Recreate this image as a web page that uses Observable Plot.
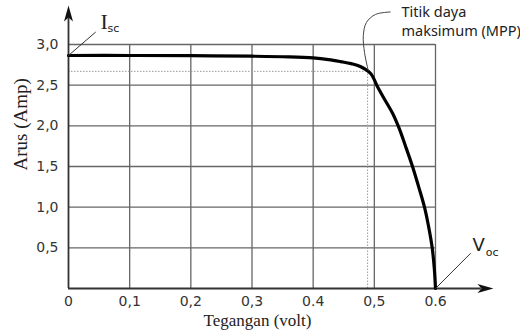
<!DOCTYPE html>
<html><head><meta charset="utf-8">
<script src="https://cdn.jsdelivr.net/npm/d3@7"></script>
<script src="https://cdn.jsdelivr.net/npm/@observablehq/plot@0.6"></script>
<style>body{margin:0;background:#fff} #chart{width:520px;height:332px}</style>
</head><body><div id="chart"></div>
<script>
// I-V curve of a solar cell
const voltage = [0, 0.10, 0.20, 0.30, 0.36, 0.40, 0.425, 0.445, 0.462, 0.477, 0.494, 0.505, 0.515, 0.530, 0.540, 0.551, 0.5624, 0.5725, 0.582, 0.589, 0.5946, 0.598, 0.600];
const current = [2.865, 2.865, 2.862, 2.856, 2.848, 2.835, 2.815, 2.79, 2.765, 2.73, 2.643, 2.484, 2.348, 2.152, 1.98, 1.75, 1.5, 1.25, 1.0, 0.75, 0.5, 0.25, 0];

const xTicks = [0, 0.1, 0.2, 0.3, 0.4, 0.5, 0.6];
const xTickLabels = ["0", "0,1", "0,2", "0,3", "0.4", "0,5", "0.6"];
const yTicks = [0.5, 1.0, 1.5, 2.0, 2.5, 3.0];
const yTickLabels = ["0,5", "1,0", "1,5", "2,0", "2,5", "3,0"];

// maximum power point
const mppV = 0.489;
const mppI = 2.67;

// annotation anchors (data units)
const mppLeaderV = [0.526, 0.502, 0.487, 0.482, 0.484, 0.490];
const mppLeaderI = [3.40, 3.37, 3.27, 3.11, 2.90, 2.68];
const iscLeaderV = [0, 0.044];
const iscLeaderI = [2.865, 3.15];
const vocLeaderV = [0.6, 0.657];
const vocLeaderI = [0, 0.43];

const curve = voltage.map((v, k) => ({v, i: current[k]}));
const mppLeader = mppLeaderV.map((v, k) => ({v, i: mppLeaderI[k]}));
const iscLeader = iscLeaderV.map((v, k) => ({v, i: iscLeaderI[k]}));
const vocLeader = vocLeaderV.map((v, k) => ({v, i: vocLeaderI[k]}));

const arrowHead = {
  draw(ctx) {
    ctx.moveTo(0, -8);
    ctx.lineTo(4.5, 8);
    ctx.lineTo(0, 4);
    ctx.lineTo(-4.5, 8);
    ctx.closePath();
  }
};

const grid = "#666";
const axisCol = "#333";
const sans = "DejaVu Sans";
const serif = "Liberation Serif";

const chart = Plot.plot({
  width: 520,
  height: 332,
  marginLeft: 68,
  marginRight: 85,
  marginTop: 44,
  marginBottom: 44,
  style: {fontFamily: sans, fontSize: "14px", color: "#333", background: "#fff"},
  x: {domain: [0, 0.6]},
  y: {domain: [0, 3]},
  marks: [
    // grid
    Plot.ruleY(yTicks, {x1: 0, x2: 0.6, stroke: grid, strokeWidth: 1.3}),
    Plot.ruleX(xTicks.slice(1), {y1: 0, y2: 3, stroke: grid, strokeWidth: 1.3}),
    // MPP dotted guides
    Plot.ruleY([mppI], {x1: 0, x2: mppV, stroke: "#999", strokeWidth: 1, strokeDasharray: "1.5,1.5"}),
    Plot.ruleX([mppV], {y1: 0, y2: mppI, stroke: "#999", strokeWidth: 1, strokeDasharray: "1.5,1.5"}),
    // axes with arrows
    Plot.ruleY([0], {x1: 0, x2: 0.675, stroke: axisCol, strokeWidth: 1.8}),
    Plot.ruleX([0], {y1: 0, y2: 3.33, stroke: axisCol, strokeWidth: 1.8}),
    Plot.dot([{v: 0.6817, i: 0}], {x: "v", y: "i", symbol: arrowHead, fill: "#111", stroke: "none", rotate: 90}),
    Plot.dot([{v: 0, i: 3.381}], {x: "v", y: "i", symbol: arrowHead, fill: "#111", stroke: "none"}),
    Plot.axisX(xTicks, {tickSize: 0, tickPadding: 8, tickFormat: d => xTickLabels[xTicks.indexOf(d)], fontSize: 14, label: null}),
    Plot.axisY(yTicks, {tickSize: 0, tickPadding: 10, tickFormat: d => yTickLabels[yTicks.indexOf(d)], fontSize: 14, label: null}),
    // axis titles
    Plot.text(["Tegangan (volt)"], {frameAnchor: "bottom", dx: 5.5, dy: 37, fontFamily: serif, fontSize: 17, fill: "#222"}),
    Plot.text(["Arus (Amp)"], {frameAnchor: "left", dx: -48, dy: 4, rotate: -90, fontFamily: serif, fontSize: 19, fill: "#222"}),
    // I-V curve
    Plot.line(curve, {x: "v", y: "i", stroke: "#000", strokeWidth: 3.2, curve: "catmull-rom"}),
    // annotations
    Plot.line(iscLeader, {x: "v", y: "i", stroke: "#333", strokeWidth: 1}),
    Plot.line(vocLeader, {x: "v", y: "i", stroke: "#333", strokeWidth: 1}),
    Plot.line(mppLeader, {x: "v", y: "i", stroke: "#444", strokeWidth: 1, curve: "catmull-rom"}),
    Plot.text(["I"], {x: 0.0523, y: 3.277, textAnchor: "start", fontFamily: serif, fontSize: 22, fill: "#222"}),
    Plot.text(["sc"], {x: 0.0638, y: 3.197, textAnchor: "start", fontFamily: sans, fontSize: 11, fill: "#222"}),
    Plot.text(["V"], {x: 0.6605, y: 0.529, textAnchor: "start", fontFamily: sans, fontSize: 18, fill: "#222"}),
    Plot.text(["oc"], {x: 0.682, y: 0.443, textAnchor: "start", fontFamily: sans, fontSize: 11, fill: "#222"}),
    Plot.text(["Titik daya"], {x: 0.5444, y: 3.394, textAnchor: "start", fontFamily: "Noto Sans", fontSize: 14.5, fill: "#222"}),
    Plot.text(["maksimum (MPP)"], {x: 0.5444, y: 3.16, textAnchor: "start", fontFamily: "Noto Sans", fontSize: 14.5, fill: "#222"})
  ]
});
document.getElementById("chart").appendChild(chart);
</script>
</body></html>
